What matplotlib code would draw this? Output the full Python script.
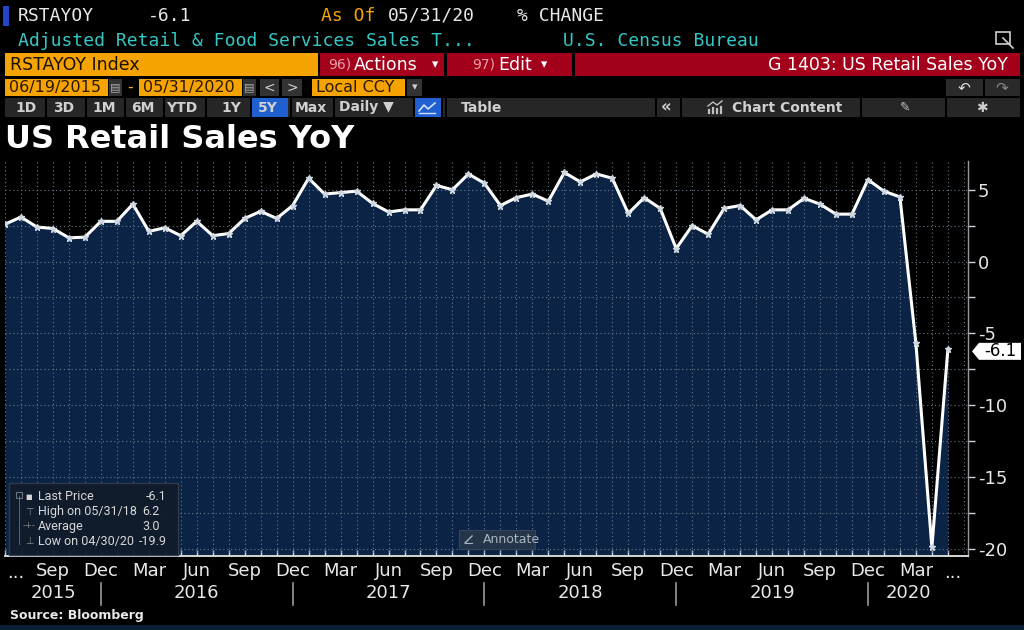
import matplotlib
matplotlib.use("Agg")
import matplotlib.pyplot as plt
from matplotlib.patches import Rectangle, Polygon
from matplotlib.lines import Line2D
import matplotlib.transforms as mtransforms
import numpy as np

# ---------------- data ----------------
months = ["Jun", "Jul", "Aug", "Sep", "Oct", "Nov", "Dec"] + \
         ["Jan", "Feb", "Mar", "Apr", "May", "Jun", "Jul", "Aug", "Sep", "Oct", "Nov", "Dec"] * 4 + \
         ["Jan", "Feb", "Mar", "Apr", "May"]
values = [2.6, 3.1, 2.4, 2.3, 1.65, 1.7, 2.8,
          2.8, 4.0, 2.1, 2.35, 1.8, 2.8, 1.8, 1.95, 3.0, 3.5, 3.0, 3.9,
          5.8, 4.7, 4.8, 4.9, 4.05, 3.45, 3.6, 3.6, 5.3, 5.0, 6.1, 5.45,
          3.9, 4.45, 4.7, 4.2, 6.2, 5.55, 6.1, 5.8, 3.35, 4.45, 3.7, 0.9,
          2.5, 1.9, 3.7, 3.9, 2.9, 3.6, 3.6, 4.4, 4.0, 3.3, 3.3, 5.7,
          4.9, 4.5, -5.7, -19.9, -6.1]
year_labels = ["2015", "2016", "2017", "2018", "2019", "2020"]
y_ticks = [5, 0, -5, -10, -15, -20]
stats_labels = ["Last Price", "High on 05/31/18", "Average", "Low on 04/30/20"]
stats_values = ["-6.1", "6.2", "3.0", "-19.9"]
last_value = values[-1]

W, H = 1024, 630
fig = plt.figure(figsize=(W / 100, H / 100), dpi=100, facecolor="black")

def fx(x): return x / W
def fy(y): return 1 - y / H

def rect(x0, y0, x1, y1, color, ec="none", lw=0, z=1, alpha=1):
    fig.patches.append(Rectangle((fx(x0), fy(y1)), (x1 - x0) / W, (y1 - y0) / H,
                                 transform=fig.transFigure, facecolor=color,
                                 edgecolor=ec, linewidth=lw, zorder=z, alpha=alpha))

def txt(x, y, s, color="white", size=12, ha="left", weight="normal", family="DejaVu Sans", z=5):
    fig.text(fx(x), fy(y), s, color=color, fontsize=size, ha=ha, va="center",
             fontweight=weight, family=family, zorder=z)

def pline(xs, ys, color, lw=1.2, z=6):
    fig.lines.append(Line2D([fx(v) for v in xs], [fy(v) for v in ys], transform=fig.transFigure,
                            color=color, lw=lw, zorder=z))

MONO = "DejaVu Sans Mono"
ORANGE = "#f5a300"
RED = "#a3001b"
CYAN = "#35c6c6"

# ---------------- header ----------------
rect(3, 6, 9, 26, "#1f46c8")
txt(18, 16, "RSTAYOY", size=13, family=MONO, color="#e8e8e8")
txt(148, 16, "-6.1", size=13, family=MONO, color="#e8e8e8")
txt(321, 16, "As Of", size=13, family=MONO, color=ORANGE)
txt(388, 16, "05/31/20", size=13, family=MONO, color="#e8e8e8")
txt(517, 16, "% CHANGE", size=13, family=MONO, color="#e8e8e8")
txt(18, 41, "Adjusted Retail & Food Services Sales T...", size=13, family=MONO, color=CYAN)
txt(563, 41, "U.S. Census Bureau", size=13, family=MONO, color=CYAN)
rect(996, 32, 1010, 44, "none", ec="#cfcfcf", lw=1.2)
pline([1003, 1013], [38, 48], "#cfcfcf", lw=1.2)

# row 3
rect(5, 53, 318, 76, ORANGE)
txt(10, 64.5, "RSTAYOY Index", size=12.5, color="#1a1000")
rect(320, 53, 444, 76, RED)
txt(328, 64.5, "96)", size=10, color="#e8a0a8")
txt(354, 64.5, "Actions", size=12.5, color="white")
txt(432, 64.5, "▾", size=9, color="white")
rect(447, 53, 572, 76, RED)
txt(472, 64.5, "97)", size=10, color="#e8a0a8")
txt(498, 64.5, "Edit", size=12.5, color="white")
txt(541, 64.5, "▾", size=9, color="white")
rect(575, 53, 1020, 76, RED)
txt(1008, 64.5, "G 1403: US Retail Sales YoY", size=12.5, color="white", ha="right")

# row 4
rect(5, 79, 108, 96, ORANGE)
txt(9, 87.5, "06/19/2015", size=11.5, color="#2a1800")
rect(109, 79, 122, 96, "#333333")
txt(115.5, 87.5, "▤", size=8, color="#aaaaaa", ha="center")
txt(130, 87.5, "-", size=11.5, color=ORANGE, ha="center")
rect(139, 79, 242, 96, ORANGE)
txt(143, 87.5, "05/31/2020", size=11.5, color="#2a1800")
rect(243, 79, 256, 96, "#333333")
txt(249.5, 87.5, "▤", size=8, color="#aaaaaa", ha="center")
rect(260, 79, 279, 96, "#333333")
txt(269.5, 87.5, "<", size=10, color="#cccccc", ha="center")
rect(282, 79, 302, 96, "#333333")
txt(292, 87.5, ">", size=10, color="#cccccc", ha="center")
rect(312, 79, 405, 96, ORANGE)
txt(316, 87.5, "Local CCY", size=11.5, color="#2a1800")
rect(407, 79, 422, 96, "#333333")
txt(414.5, 87.5, "▾", size=8, color="#cccccc", ha="center")
rect(946, 79, 983, 96, "#2a2a2a")
txt(964, 87.5, "↶", size=11, color="#e0e0e0", ha="center")
rect(985, 79, 1020, 96, "#2a2a2a")
txt(1002, 87.5, "↷", size=11, color="#888888", ha="center")

# row 5 toolbar
rect(5, 98, 1020, 117, "#262626")
btns = [(26, "1D"), (64, "3D"), (104, "1M"), (143, "6M"), (182, "YTD"), (231, "1Y"),
        (268, "5Y"), (311, "Max"), (366, "Daily ▼")]
rect(250, 98, 288, 117, "#1f5fd0")
rect(413, 98, 441, 117, "#1f5fd0")
for bx, bl in btns:
    txt(bx, 107.5, bl, size=10, color="#d0d0d0", ha="center", weight="bold")
pline([419, 424, 428, 435], [111, 105, 109, 103], "#d0e0ff", lw=1.2)
pline([419, 435], [113, 113], "#d0e0ff", lw=1.0)
txt(482, 107.5, "Table", size=10, color="#d0d0d0", ha="center", weight="bold")
for sx in [45, 85, 124, 163, 205, 250, 290, 333, 413, 441, 445, 655, 680, 860, 945]:
    rect(sx, 98, sx + 1.5, 117, "black")
txt(666, 107.5, "«", size=12, color="#d0d0d0", ha="center", weight="bold")
pline([708, 713, 717, 722], [106, 102, 105, 101], "#c0c0c0", lw=1.0)
for bx_, bh in [(709, 3), (713, 5), (717, 4), (721, 6)]:
    pline([bx_, bx_], [113, 113 - bh], "#c0c0c0", lw=1.6)
txt(787, 107.5, "Chart Content", size=10, color="#d0d0d0", ha="center", weight="bold")
txt(905, 107.5, "✎", size=9, color="#c0c0c0", ha="center")
txt(982, 107.5, "✱", size=10, color="#d0d0d0", ha="center")

# title
txt(5, 140, "US Retail Sales YoY", size=23, weight="bold", color="white")

# ---------------- chart ----------------
ax = fig.add_axes([fx(5), fy(556), (968 - 5) / W, (556 - 161) / H])
ax.set_facecolor("black")
x = np.arange(len(values))
ymin, ymax = -20.5, 7.0
ax.set_xlim(0, 60.26)
ax.set_ylim(ymin, ymax)

ax.fill_between(x, values, ymin, color="#0b2445", zorder=1, linewidth=0)
grid_kw = dict(color="#6a7888", linewidth=0.8, linestyle=(0, (1, 2.5)), zorder=2)
for gx in range(0, 61):
    ax.axvline(gx, **grid_kw)
for gy in np.arange(-20, 7.5, 2.5):
    ax.axhline(gy, **grid_kw)
ax.plot(x, values, color="white", lw=2.2, zorder=4, marker="*", markersize=4.5,
        markerfacecolor="#cfd8e0", markeredgecolor="#cfd8e0")

for s in ["top", "left"]:
    ax.spines[s].set_visible(False)
ax.spines["right"].set_color("#9a9a9a")
ax.spines["right"].set_linewidth(1.0)
ax.spines["bottom"].set_color("#d8d8d8")
ax.spines["bottom"].set_linewidth(1.4)

ax.yaxis.tick_right()
ax.set_yticks(y_ticks)
ax.set_yticklabels([f"{v:g}" for v in y_ticks])
ax.set_yticks(np.arange(-17.5, 7.0, 5), minor=True)
ax.tick_params(axis="y", which="both", direction="out", length=5, width=1,
               color="#cfcfcf", labelcolor="#e8e8e8", labelsize=13, pad=2)

# x ticks: every month small inward ticks, labels quarterly
ax.set_xticks(x, minor=True)
q_idx = [i for i, m in enumerate(months) if m in ("Mar", "Jun", "Sep", "Dec") and i >= 3]
ax.set_xticks(q_idx)
ax.set_xticklabels([months[i] for i in q_idx])
ax.tick_params(axis="x", which="both", direction="in", length=4, width=1,
               color="#d8d8d8", labelcolor="#e8e8e8", labelsize=13, pad=4)

trans = mtransforms.blended_transform_factory(ax.transData, ax.transAxes)
ax.text(0.7, -0.043, "...", transform=trans, ha="center", va="center", color="#e8e8e8", fontsize=13)
ax.text(59.3, -0.043, "...", transform=trans, ha="center", va="center", color="#e8e8e8", fontsize=13)

# year labels and separators
year_bounds = [0, 6, 18, 30, 42, 54, 59]
for i, yl in enumerate(year_labels):
    a, b = year_bounds[i], year_bounds[i + 1]
    ax.text((a + b) / 2, -0.094, yl, transform=trans, ha="center", va="center",
            color="#e8e8e8", fontsize=13)
for sb in year_bounds[1:-1]:
    ax.add_line(Line2D([sb, sb], [-0.068, -0.124], transform=trans, color="#9a9a9a",
                       lw=1.2, clip_on=False))

# last value tag
ly = fy(261.5 - last_value * 14.4 + 2)
hh = 8.5 / H
tag = Polygon([[fx(972), ly], [fx(979), ly + hh], [fx(1021), ly + hh],
               [fx(1021), ly - hh], [fx(979), ly - hh]],
              closed=True, transform=fig.transFigure, facecolor="white", edgecolor="none", zorder=6)
fig.patches.append(tag)
fig.text(fx(1000), ly, f"{last_value:g}", color="black", fontsize=12, ha="center",
         va="center", zorder=7)

# stats box
rect(9, 483, 178, 555, "#111c2a", ec="#2e3c4c", lw=1, z=3, alpha=0.95)
val_x = [146, 142, 142, 139]
for i, (lab, val) in enumerate(zip(stats_labels, stats_values)):
    yy = 497 + i * 14.7
    txt(38, yy, lab, size=9, color="#d8d8d8", family="Roboto")
    txt(val_x[i], yy, val, size=9, color="#d8d8d8", family="Roboto")
txt(29, 497, "■", size=5, color="#d8d8d8", ha="center")
txt(29, 512, "⊤", size=7, color="#888888", ha="center")
txt(29, 526, "-+-", size=6, color="#888888", ha="center")
txt(29, 541, "⊥", size=7, color="#888888", ha="center")
rect(19, 496, 20, 545, "#5a6470", z=4)
rect(16, 492, 22, 498, "none", ec="#6a7480", lw=0.8, z=4)

# annotate button
rect(459, 530, 535, 549, "#25364a", ec="#33465c", lw=0.8, z=3)
pline([465, 472], [543, 536], "#a8b4c0", lw=1.0)
pline([465, 472], [543, 543], "#a8b4c0", lw=0.8)
txt(483, 539.5, "Annotate", size=9, color="#a8b4c0")

# footer
txt(10, 615, "Source: Bloomberg", size=9, weight="bold", color="#e8e8e8")
rect(0, 625, 1024, 630, "#0b2038")

fig.savefig("out.png", dpi=100, facecolor="black")
